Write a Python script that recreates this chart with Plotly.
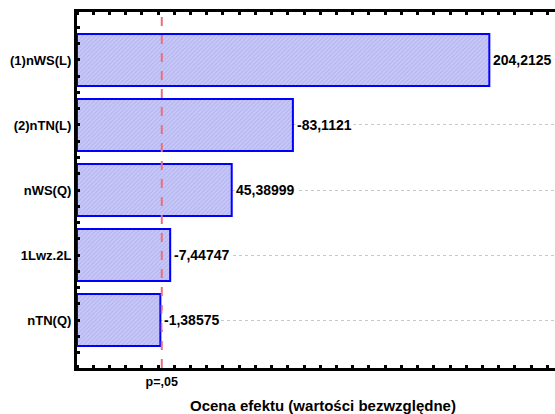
import plotly.graph_objects as go

# Data
factors = ["(1)nWS(L)", "(2)nTN(L)", "nWS(Q)", "1Lwz.2L", "nTN(Q)"]
effects = [204.2125, -83.1121, 45.38999, -7.44747, -1.38575]
p_crit = 2.26
p_label = "p=,05"
x_title = "Ocena efektu (wartości bezwzględne)"

X_MIN, X_MAX = -50, 244.7
pos = list(range(len(factors)))
absv = [abs(v) for v in effects]

FONT = "Arial, Liberation Sans, sans-serif"

fig = go.Figure()
fig.add_trace(go.Bar(
    y=pos, x=[a - X_MIN for a in absv], base=X_MIN, orientation="h", width=0.8,
    marker=dict(color="#c4c4f6",
                line=dict(color="#0000ff", width=2),
                pattern=dict(shape="/", fgcolor="#9c9ce6", bgcolor="#c8c8f8", size=3, solidity=0.35)),
    hoverinfo="skip", showlegend=False,
))

for p, a, v in zip(pos, absv, effects):
    fig.add_annotation(x=a, y=p, xref="x", yref="y", text=str(v).replace(".", ","),
                       showarrow=False, xanchor="left", xshift=2, bgcolor="white",
                       font=dict(family=FONT, size=14, color="black", weight="bold"))

fig.add_shape(type="line", x0=p_crit, x1=p_crit, xref="x", y0=0, y1=1, yref="paper",
              line=dict(color="#e8707c", width=2, dash="dash"))

fig.add_annotation(text=x_title, xref="paper", yref="paper", x=0.515, y=0, yshift=-37,
                   yanchor="middle", xanchor="center", showarrow=False,
                   font=dict(family=FONT, size=15, color="black", weight="bold"))

fig.update_layout(
    width=555, height=414,
    margin=dict(l=77, r=0, t=12, b=46),
    paper_bgcolor="white", plot_bgcolor="white",
    font=dict(family=FONT, size=13, color="black"),
    bargap=0.2,
)
fig.update_xaxes(
    automargin=False,
    range=[X_MIN, X_MAX], showgrid=False, zeroline=False,
    showline=True, linecolor="black", linewidth=3, mirror="ticks",
    tickvals=[p_crit], ticktext=[p_label], ticks="",
    tickfont=dict(family=FONT, size=12.5, weight="bold"),
    minor=dict(tick0=0, dtick=10, ticks="inside", ticklen=3, tickwidth=3, tickcolor="black", showgrid=False),
)
fig.update_yaxes(
    automargin=False,
    range=[len(factors) - 1 + 0.738, -0.738], zeroline=False,
    showline=True, linecolor="black", linewidth=3,
    tickvals=pos, ticktext=factors, ticks="inside", ticklen=3, tickwidth=3, tickcolor="black",
    tickfont=dict(family=FONT, size=13, weight="bold"),
    showgrid=True, gridcolor="#c8c8c8", griddash="dot", gridwidth=1,
    minor=dict(tick0=0, dtick=0.25, ticks="inside", ticklen=3, tickwidth=3, tickcolor="black", showgrid=False),
)

fig.write_html("out.html", config={"displayModeBar": False},
               post_script="document.body.style.margin='0';document.body.style.overflow='hidden';")
